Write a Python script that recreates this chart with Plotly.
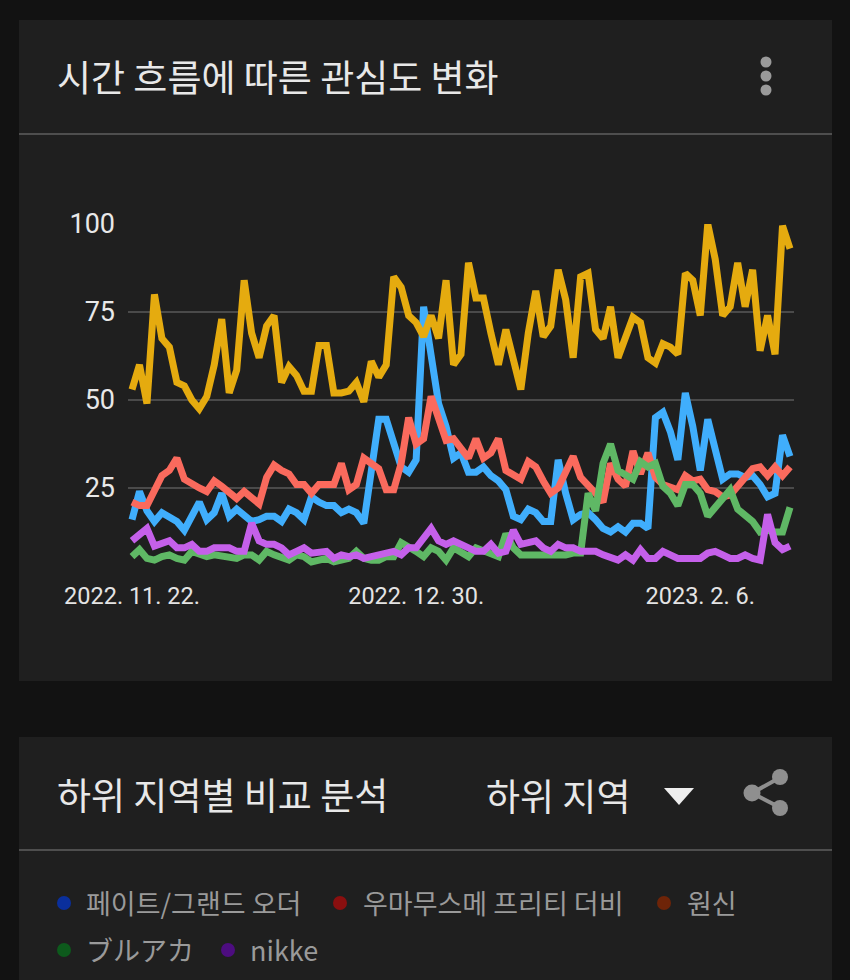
import pandas as pd
import plotly.graph_objects as go

title_top = "시간 흐름에 따른 관심도 변화"
title_bottom = "하위 지역별 비교 분석"
dropdown_label = "하위 지역"
series_names = ["페이트/그랜드 오더", "우마무스메 프리티 더비", "원신", "ブルアカ", "nikke"]
dates = pd.date_range("2022-11-22", periods=89, freq="D")
tick_dates = ["2022-11-22", "2022-12-30", "2023-02-06"]
tick_labels = ["2022. 11. 22.", "2022. 12. 30.", "2023. 2. 6."]
y_ticks = [0, 25, 50, 75, 100]
y_tick_labels = ["", "25", "50", "75", "100"]

fate = [16, 24, 18.5, 15.5, 18, 17, 15.5, 13, 17, 21, 16, 18, 23.5, 17, 19, 17, 15.5, 16, 17, 17,
        15.5, 19, 18, 16, 22.5, 21, 20, 20, 18, 19, 18, 15, 31, 44.5, 44.5, 37, 31, 29.5, 33, 76.5,
        62, 49, 42.5, 33.5, 35, 29.5, 29.5, 31, 28.5, 27, 24.5, 17, 16, 19, 18, 15.5, 15.5, 33, 23.5, 16,
        17.5, 18, 16, 13.5, 12.5, 14, 12.5, 15, 15, 13.5, 45, 46.5, 41, 33, 52, 42.5, 30, 44.5, 36, 27.5,
        29, 29, 28, 28.5, 26, 22.5, 23.5, 40, 34]
uma = [21, 20, 20, 24.5, 28.5, 30, 33.5, 27.5, 26, 25, 24, 27, 25.5, 23.5, 22, 24, 22, 20.5, 28, 31.5,
       30, 29, 26, 26, 23.5, 26, 26, 26, 32, 24.5, 26, 33.5, 32, 30.5, 24.5, 24.5, 32, 45, 37.5, 39,
       51, 44, 38.5, 39, 36.5, 33.5, 39, 33.5, 35, 39, 30, 28.5, 27.5, 32.5, 31, 27, 23.5, 25, 29.5, 34,
       28, 26, 23.5, 21, 32, 27.5, 25.5, 35.5, 29, 35, 28, 26, 25.5, 24.5, 28.5, 27, 27.5, 24.5, 24, 22.5,
       23, 25.5, 28.5, 30.5, 31, 28.5, 31, 28.5, 31]
genshin = [53, 60, 49, 80, 67.5, 65, 55, 54, 50, 47.5, 51, 60, 73, 52, 58.5, 84, 69, 62, 71, 74,
           55, 59.5, 57, 52.5, 52.5, 65.5, 65.5, 52, 52, 52.5, 55, 49.5, 61, 56.5, 60, 85, 82, 74, 72, 68,
           74, 67.5, 84, 60, 63, 89, 79, 79, 69, 60, 70, 61.5, 53, 69, 81, 68, 71, 87, 78.5, 62,
           85, 86, 70, 67.5, 76.5, 62, 67.5, 73.5, 72, 62, 60.5, 66, 65, 63, 86, 84, 74, 100, 90, 74,
           76.5, 89, 76.5, 87, 64, 74, 63, 99.5, 93]
bluearchive = [5.5, 7.5, 5, 4.5, 5.5, 6, 5, 4.5, 7, 6, 5.5, 6, 5.5, 5, 5, 6, 6, 4.5, 7, 6,
               5, 4.5, 6, 5.5, 4, 4.5, 5, 4, 4.5, 5, 7, 5, 4.5, 4.5, 5.5, 5.5, 9.5, 8.5, 7, 5.5,
               8, 7, 4.5, 8, 7, 5.5, 8, 7, 6, 5.5, 12, 8, 6, 6, 6, 6, 6, 6, 6, 6.5,
               6.5, 23.5, 18.5, 32, 37.5, 30, 28.5, 27.5, 32.5, 31, 32, 25.5, 23.5, 20, 26, 26, 23.5, 17, 19.5, 22,
               24.5, 19, 17.5, 15.5, 12.5, 13, 12.5, 12.5, 19.5]
nikke = [10, 11.5, 13.5, 8.5, 9.5, 10, 8, 8, 9, 7, 7, 8, 8, 8, 7, 7, 15, 10, 9, 9,
         8, 6, 7, 8, 6.5, 7, 7, 5, 6, 5.5, 6, 5, 5.5, 6, 7, 7, 6, 8, 8, 10.5,
         13.5, 10, 9, 10, 9, 8, 7, 7, 9, 6.5, 7, 13, 9, 9.5, 10, 8, 7, 9, 8, 8,
         7, 7, 7, 6, 5.5, 4.5, 6, 4.5, 7.5, 5, 5, 7, 6, 5, 5, 5, 5, 6.5, 7, 6,
         5, 5, 6, 5, 4.5, 17.5, 9.5, 7.5, 8.5]

values = [fate, uma, genshin, bluearchive, nikke]
line_colors = ["#40aefc", "#fa6a5d", "#e5ab0f", "#5fb865", "#c560ea"]
legend_colors = ["#0a2f9c", "#8a0f0f", "#6e2408", "#0d5a1c", "#4d0d80"]

W, H = 850, 980
PX, PY = lambda p: p / W, lambda p: 1 - p / H
FONT = "Noto Sans CJK KR"

fig = go.Figure()
for name, ys, c in zip(series_names, values, line_colors):
    fig.add_trace(go.Scatter(x=dates, y=ys, name=name, mode="lines", cliponaxis=False,
                             line=dict(color=c, width=7, shape="linear")))

shapes = []
def rect(x0, y0, x1, y1, color):
    shapes.append(dict(type="rect", xref="paper", yref="paper", x0=PX(x0), x1=PX(x1),
                       y0=PY(y1), y1=PY(y0), fillcolor=color, line_width=0, layer="below"))
def disc(cx, cy, r, color):
    shapes.append(dict(type="circle", xref="paper", yref="paper", x0=PX(cx - r), x1=PX(cx + r),
                       y0=PY(cy + r), y1=PY(cy - r), fillcolor=color, line_width=0, layer="above"))
def seg(x0, y0, x1, y1, color, w):
    shapes.append(dict(type="line", xref="paper", yref="paper", x0=PX(x0), x1=PX(x1),
                       y0=PY(y0), y1=PY(y1), line=dict(color=color, width=w), layer="above"))

rect(19, 20, 832, 681, "#1f1f1f")
rect(19, 737, 832, 980, "#1f1f1f")
rect(19, 133, 832, 135, "#4e4e4e")
rect(19, 849, 832, 851, "#4e4e4e")
for cy in (62, 76, 90):
    disc(766, cy, 5.5, "#9a9a9a")
# dropdown arrow
shapes.append(dict(type="path", xref="paper", yref="paper", fillcolor="#eeeeee", line_width=0,
                   path=f"M {PX(664)} {PY(788)} L {PX(694)} {PY(788)} L {PX(679)} {PY(805)} Z"))
# share icon
seg(781, 777, 752, 793, "#8f8f8f", 4)
seg(781, 808, 752, 793, "#8f8f8f", 4)
disc(780, 777, 8, "#8f8f8f")
disc(752, 793, 8.5, "#8f8f8f")
disc(780, 808, 8, "#8f8f8f")

ann = []
def text(x, y, s, size, color, anchor="left"):
    ann.append(dict(xref="paper", yref="paper", x=PX(x), y=PY(y), text=s, showarrow=False,
                    xanchor=anchor, yanchor="middle",
                    font=dict(family=FONT, size=size, color=color)))

text(55, 76, title_top, 37, "#e8e8e8")
text(55, 794, title_bottom, 37, "#e8e8e8")
text(484, 795, dropdown_label, 37, "#e8e8e8")

legend_pos = [(64, 84, 902), (340, 361, 902), (664, 685, 902), (64, 84, 949), (228, 248, 949)]
for name, color, (dx, tx, ly) in zip(series_names, legend_colors, legend_pos):
    disc(dx, ly + 1, 7, color)
    text(tx, ly, name, 27, "#9a9a9a")

start = dates[0] - pd.Timedelta(days=4 / 7.47)
end = dates[-1] + pd.Timedelta(days=4 / 7.47)
fig.update_layout(
    width=W, height=H, margin=dict(l=0, r=0, t=0, b=0, pad=0), autosize=False,
    paper_bgcolor="#121212", plot_bgcolor="rgba(0,0,0,0)", showlegend=False,
    shapes=shapes, annotations=ann,
    xaxis=dict(domain=[PX(128), PX(794)], range=[start, end], type="date", showgrid=False,
               automargin=False, zeroline=False, tickmode="array", tickvals=tick_dates, ticktext=tick_labels,
               ticks="", tickfont=dict(family="Roboto", size=23.5, color="#e4e4e4"),
               ticklabelstandoff=3, fixedrange=True),
    yaxis=dict(domain=[PY(576), PY(224)], range=[0, 100], tickmode="array", tickvals=y_ticks,
               automargin=False, ticktext=y_tick_labels, showgrid=True, gridcolor="#4a4a4a", gridwidth=2,
               zeroline=False, ticks="", tickfont=dict(family="Roboto", size=27, color="#e8e8e8"),
               ticklabelstandoff=12, fixedrange=True),
)
fig.write_html("out.html", config={"displayModeBar": False},
               post_script="document.body.style.margin='0';document.body.style.overflow='hidden';")
